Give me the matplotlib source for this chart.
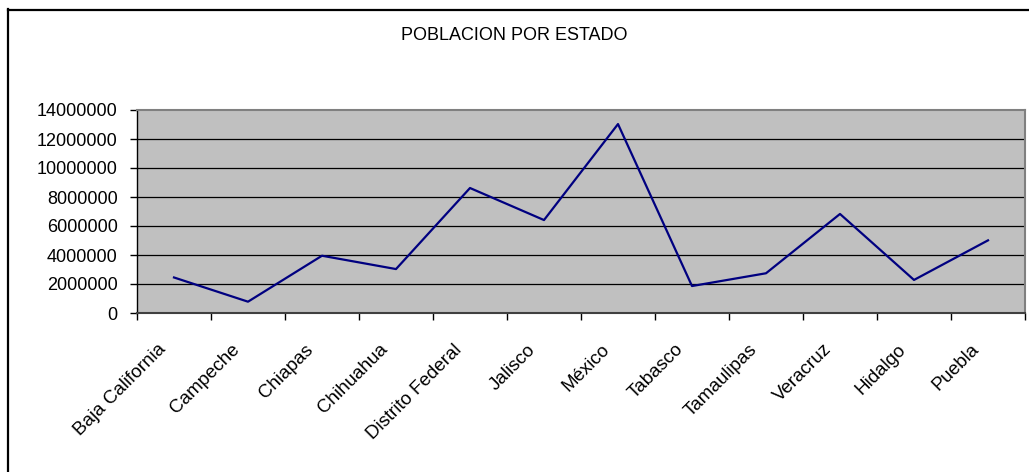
import numpy as np
import matplotlib.pyplot as plt
from matplotlib.lines import Line2D
from matplotlib.transforms import ScaledTranslation

estados = ["Baja California", "Campeche", "Chiapas", "Chihuahua", "Distrito Federal",
           "Jalisco", "México", "Tabasco", "Tamaulipas", "Veracruz", "Hidalgo", "Puebla"]
poblacion = [2450000, 780000, 3950000, 3030000, 8620000,
             6410000, 13030000, 1860000, 2740000, 6830000, 2280000, 5010000]
yticks = [0, 2000000, 4000000, 6000000, 8000000, 10000000, 12000000, 14000000]

plt.rcParams['font.family'] = ['Liberation Sans', 'DejaVu Sans']

fig = plt.figure(figsize=(10.29, 4.72), dpi=100)
ax = fig.add_axes([137/1029, 1 - 313/472, (1025 - 137)/1029, (313 - 110)/472])
ax.set_facecolor('#C0C0C0')

x = np.arange(len(estados))
ax.plot(x, poblacion, color='#000080', lw=1.6, zorder=3)

ax.set_ylim(0, 14000000)
ax.set_yticks(yticks)
ax.set_yticklabels([str(v) for v in yticks], fontsize=13)
for v in yticks[1:-1]:
    ax.axhline(v, color='black', lw=0.9, zorder=1)

ax.set_xlim(-0.5, len(estados) - 0.5)
ax.set_xticks(np.arange(len(estados) + 1) - 0.5)
ax.set_xticklabels([])
ax.tick_params(axis='x', which='major', length=5, width=1, direction='out')
ax.tick_params(axis='y', length=5, width=1, direction='out', pad=9)

# etiquetas de categoria giradas, un poco a la izquierda del centro
trans = ax.get_xaxis_transform() + ScaledTranslation(-11/100, -34/100, fig.dpi_scale_trans)
for i, nombre in enumerate(estados):
    ax.text(x[i], 0, nombre, transform=trans, rotation=45, rotation_mode='anchor',
            ha='right', va='center', fontsize=13.5, clip_on=False)

ax.spines['top'].set_color('#808080')
ax.spines['right'].set_color('#808080')
ax.spines['top'].set_linewidth(1.5)
ax.spines['right'].set_linewidth(1.5)
ax.spines['left'].set_linewidth(1)
ax.spines['bottom'].set_linewidth(1.5)
ax.spines['bottom'].set_color('#404040')

fig.text(514/1029, 1 - 35/472, "POBLACION POR ESTADO", ha='center', va='center', fontsize=13)

# borde exterior del grafico (solo arriba e izquierda visibles)
fig.add_artist(Line2D([8/1029, 8/1029], [0, 1 - 9/472], color='black', lw=1.6,
                      transform=fig.transFigure))
fig.add_artist(Line2D([8/1029, 1], [1 - 9.5/472, 1 - 9.5/472], color='black', lw=1.6,
                      transform=fig.transFigure))

fig.savefig("out.png", dpi=100)
